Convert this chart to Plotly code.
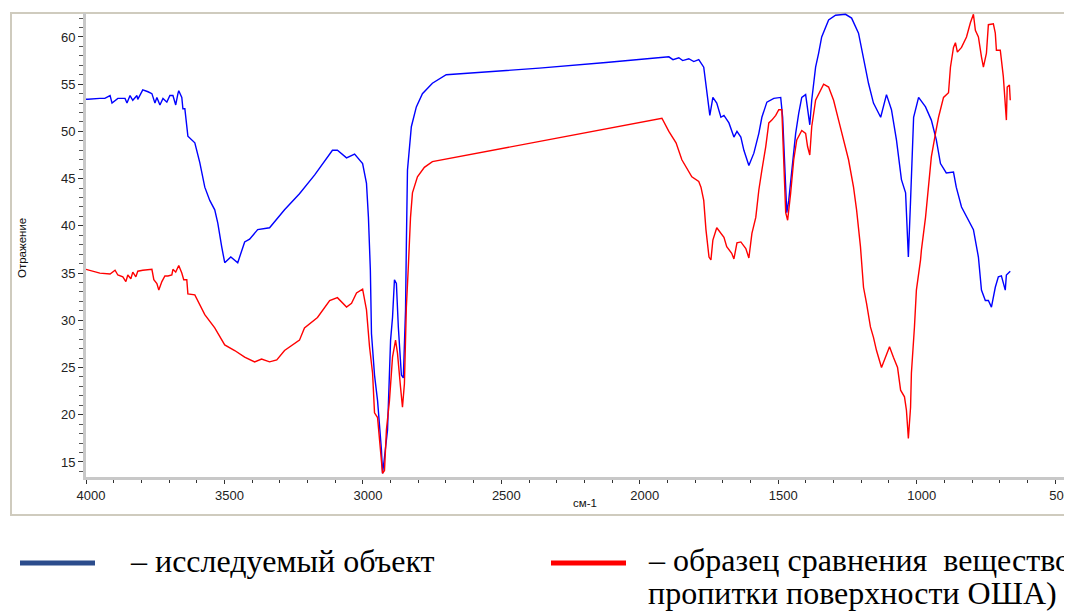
import plotly.graph_objects as go

# ---- data ----
blue_wn = [4000, 3993, 3950, 3932, 3913, 3906, 3885, 3859, 3852, 3841,
           3831, 3816, 3813, 3798, 3795, 3776, 3762, 3751, 3744, 3733,
           3722, 3708, 3697, 3686, 3676, 3668, 3665, 3654, 3650, 3643,
           3632, 3607, 3589, 3571, 3553, 3535, 3524, 3510, 3499, 3477,
           3452, 3427, 3409, 3380, 3337, 3283, 3229, 3174, 3138, 3110,
           3092, 3059, 3030, 3001, 2987, 2980, 2973, 2969, 2958, 2947,
           2933, 2929, 2922, 2911, 2900, 2893, 2886, 2879, 2872, 2861,
           2854, 2846, 2843, 2839, 2825, 2807, 2785, 2749, 2699, 2605,
           2363, 2122, 1895, 1880, 1859, 1845, 1823, 1805, 1787, 1769,
           1758, 1747, 1736, 1722, 1707, 1696, 1678, 1660, 1649, 1635,
           1624, 1606, 1588, 1570, 1559, 1541, 1516, 1491, 1484, 1477,
           1473, 1469, 1462, 1451, 1437, 1426, 1415, 1401, 1394, 1386,
           1379, 1365, 1354, 1343, 1318, 1293, 1257, 1235, 1210, 1192,
           1174, 1156, 1130, 1109, 1091, 1073, 1055, 1040, 1033, 1030,
           1022, 1011, 993, 968, 947, 929, 914, 893, 867, 857,
           838, 813, 795, 777, 766, 752, 741, 730, 716, 705,
           694, 680, 676, 662]
blue_val = [53.4, 53.4, 53.5, 53.5, 53.8, 53.0, 53.5, 53.5, 53.0, 53.8,
            53.3, 53.8, 53.4, 54.2, 54.4, 54.2, 54.0, 53.0, 53.6, 52.8,
            53.5, 53.1, 53.8, 53.8, 52.8, 54.0, 54.3, 53.6, 52.4, 52.4,
            49.5, 48.8, 46.7, 44.1, 42.7, 41.7, 40.3, 37.8, 36.1, 36.7,
            36.1, 38.3, 38.6, 39.6, 39.8, 41.7, 43.4, 45.4, 46.9, 48.0,
            48.0, 47.2, 47.6, 46.6, 44.5, 40.9, 35.3, 28.6, 24.2, 21.5,
            16.3, 13.8, 15.5, 18.4, 27.9, 30.3, 34.3, 33.9, 29.3, 24.2,
            23.9, 31.1, 38.0, 45.9, 50.5, 52.6, 54.0, 55.1, 56.0, 56.2,
            56.7, 57.3, 57.9, 57.6, 57.8, 57.5, 57.7, 57.4, 57.6, 56.8,
            54.1, 51.7, 53.6, 53.0, 51.5, 51.7, 50.9, 49.4, 50.0, 49.4,
            48.0, 46.4, 47.7, 49.8, 51.5, 53.1, 53.5, 53.6, 51.5, 46.2,
            42.7, 41.4, 42.7, 46.2, 49.8, 51.9, 53.6, 53.9, 52.3, 50.7,
            53.3, 56.8, 58.3, 60.0, 61.8, 62.3, 62.4, 62.0, 60.4, 57.9,
            55.1, 53.0, 51.5, 53.9, 52.3, 49.1, 44.9, 43.5, 39.2, 36.7,
            42.7, 51.5, 53.6, 52.6, 51.2, 49.1, 46.6, 45.6, 45.7, 44.1,
            42.0, 40.6, 39.6, 36.7, 33.2, 32.1, 32.1, 31.4, 33.5, 34.6,
            34.7, 33.2, 34.8, 35.2]

red_wn = [4000, 3950, 3913, 3895, 3885, 3867, 3856, 3849, 3838, 3831,
          3820, 3813, 3795, 3762, 3755, 3744, 3737, 3726, 3715, 3704,
          3690, 3686, 3676, 3665, 3654, 3647, 3636, 3632, 3607, 3571,
          3535, 3499, 3463, 3427, 3391, 3366, 3337, 3311, 3283, 3229,
          3211, 3164, 3120, 3092, 3059, 3041, 3023, 3001, 2987, 2976,
          2965, 2958, 2947, 2937, 2929, 2922, 2915, 2904, 2893, 2882,
          2875, 2864, 2857, 2850, 2843, 2836, 2828, 2821, 2803, 2778,
          2749, 1920, 1895, 1869, 1848, 1812, 1787, 1779, 1769, 1761,
          1750, 1743, 1736, 1722, 1707, 1696, 1686, 1668, 1660, 1649,
          1635, 1617, 1606, 1595, 1581, 1570, 1559, 1545, 1534, 1523,
          1509, 1498, 1487, 1484, 1477, 1473, 1466, 1455, 1444, 1433,
          1415, 1401, 1394, 1386, 1379, 1365, 1347, 1336, 1318, 1300,
          1282, 1264, 1246, 1228, 1217, 1203, 1199, 1192, 1181, 1167,
          1156, 1145, 1127, 1112, 1098, 1084, 1069, 1058, 1044, 1037,
          1030, 1022, 1019, 1008, 1001, 986, 983, 968, 957, 947,
          932, 921, 903, 885, 878, 867, 860, 853, 838, 820,
          806, 795, 788, 777, 766, 759, 748, 741, 723, 716,
          712, 698, 687, 680, 676, 673, 665, 662]
red_val = [35.4, 35.0, 34.9, 35.3, 34.8, 34.6, 34.1, 34.8, 34.4, 35.1,
           34.6, 35.2, 35.3, 35.4, 34.3, 33.9, 33.2, 34.1, 34.7, 34.7,
           34.8, 35.4, 35.1, 35.8, 35.0, 34.3, 34.3, 32.8, 32.7, 30.6,
           29.2, 27.4, 26.8, 26.1, 25.6, 25.9, 25.6, 25.8, 26.8, 27.9,
           29.2, 30.3, 32.1, 32.4, 31.4, 31.8, 32.9, 33.3, 31.1, 27.2,
           24.4, 20.2, 19.7, 16.6, 13.8, 14.1, 18.4, 21.5, 26.1, 27.9,
           26.5, 22.9, 20.8, 23.3, 31.4, 35.6, 40.9, 43.5, 45.2, 46.2,
           46.8, 51.4, 50.0, 48.8, 47.0, 45.2, 44.7, 44.1, 42.7, 39.6,
           36.7, 36.4, 38.5, 39.8, 39.2, 38.8, 37.8, 37.1, 36.5, 38.2,
           38.3, 37.6, 36.6, 39.2, 40.9, 43.8, 45.9, 48.4, 50.9, 51.2,
           51.7, 52.3, 52.3, 49.1, 44.5, 41.4, 40.6, 43.5, 47.0, 49.1,
           50.1, 49.8, 48.4, 47.5, 50.5, 53.3, 54.4, 55.0, 54.7, 53.3,
           51.2, 49.1, 47.0, 44.1, 41.7, 37.8, 36.4, 33.5, 31.8, 29.3,
           28.2, 26.8, 25.0, 26.1, 27.2, 26.1, 25.0, 22.6, 21.9, 20.5,
           17.5, 20.8, 24.4, 29.3, 33.2, 36.4, 37.4, 40.9, 44.5, 47.3,
           49.8, 51.5, 53.6, 54.1, 56.8, 58.9, 59.4, 58.4, 58.9, 60.0,
           61.5, 62.4, 60.7, 60.0, 57.9, 56.8, 58.3, 61.3, 61.4, 60.4,
           58.6, 58.6, 55.8, 52.3, 51.2, 54.7, 54.9, 53.3]

y_tick_vals = [15, 20, 25, 30, 35, 40, 45, 50, 55, 60]
x_tick_vals = [4000, 3500, 3000, 2500, 2000, 1500, 1000, 500]

y_title = "Отражение"
x_title = "см-1"
legend_blue = "– исследуемый объект"
legend_red_1 = "– образец сравнения\u00a0\u00a0вещество"
legend_red_2 = "пропитки поверхности ОША)"

# ---- layout geometry (page pixels; the page body adds an 8 px offset) ----
OFF = 8
W, H = 1072 - OFF, 612 - OFF
PLOT_L, PLOT_R, PLOT_T, PLOT_B = 86, 1072, 13, 477   # page pixels
ML, MR, MT, MB = PLOT_L - OFF, 1072 - PLOT_R, PLOT_T - OFF, 612 - PLOT_B
PW, PH = PLOT_R - PLOT_L, PLOT_B - PLOT_T


def px(x):
    return (x - PLOT_L) / PW


def py(y):
    return (PLOT_B - y) / PH


fig = go.Figure()
fig.add_trace(go.Scatter(x=blue_wn, y=blue_val, mode="lines",
                         line=dict(color="#0000FF", width=1.4), showlegend=False))
fig.add_trace(go.Scatter(x=red_wn, y=red_val, mode="lines",
                         line=dict(color="#FF0000", width=1.4), showlegend=False))

axis_font = dict(family="Liberation Sans, Arial", size=13, color="#222222")
fig.update_xaxes(range=[4000, 439], tickvals=x_tick_vals, showgrid=False, zeroline=False,
                 showline=True, linecolor="#C8C8C8", linewidth=3,
                 ticks="outside", ticklen=4, tickcolor="#333333", tickwidth=1,
                 minor=dict(dtick=100, ticks="outside", ticklen=3, tickcolor="#333333"),
                 tickfont=axis_font, ticklabelshift=-5)
fig.update_yaxes(range=[13.41, 62.54], tickvals=y_tick_vals, showgrid=False, zeroline=False,
                 showline=True, linecolor="#C8C8C8", linewidth=3,
                 ticks="outside", ticklen=5, tickcolor="#333333", tickwidth=1,
                 minor=dict(dtick=1, ticks="outside", ticklen=4, tickcolor="#555555"),
                 tickfont=axis_font)

shapes = [
    dict(type="rect", xref="paper", yref="paper", x0=px(11), x1=px(1085), y0=py(515), y1=py(13),
         line=dict(color="#CFCBBE", width=2), fillcolor="rgba(0,0,0,0)", layer="below"),
    dict(type="line", xref="paper", yref="paper", x0=px(20), x1=px(95), y0=py(563), y1=py(563),
         line=dict(color="#2B4C8C", width=5)),
    dict(type="line", xref="paper", yref="paper", x0=px(551), x1=px(626), y0=py(563), y1=py(563),
         line=dict(color="#FF0000", width=5)),
]

serif = dict(family="Liberation Serif, Times New Roman", size=32, color="#000000")
annotations = [
    dict(text=y_title, xref="paper", yref="paper", x=px(22), y=py(248), textangle=-90,
         showarrow=False, font=dict(family="Liberation Sans, Arial", size=11.5, color="#111111"),
         xanchor="center", yanchor="middle"),
    dict(text=x_title, xref="paper", yref="paper", x=px(585), y=py(503),
         showarrow=False, font=dict(family="Liberation Sans, Arial", size=11.5, color="#111111"),
         xanchor="center", yanchor="middle"),
    dict(text=legend_blue, xref="paper", yref="paper", x=px(128), y=py(561),
         showarrow=False, font=serif, xanchor="left", yanchor="middle"),
    dict(text=legend_red_1, xref="paper", yref="paper", x=px(646), y=py(560),
         showarrow=False, font=serif, xanchor="left", yanchor="middle"),
    dict(text=legend_red_2, xref="paper", yref="paper", x=px(646), y=py(593),
         showarrow=False, font=serif, xanchor="left", yanchor="middle"),
]

fig.update_layout(width=W, height=H, margin=dict(l=ML, r=MR, t=MT, b=MB),
                  paper_bgcolor="white", plot_bgcolor="white",
                  shapes=shapes, annotations=annotations, showlegend=False)

fig.write_html("out.html")
